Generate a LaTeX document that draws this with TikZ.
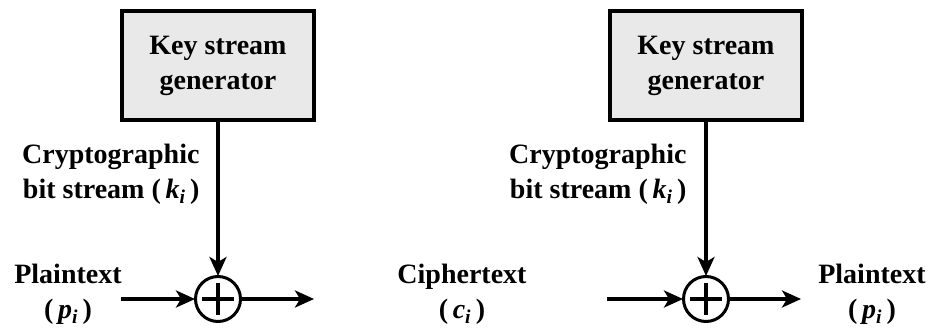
\documentclass[tikz,border=0pt]{standalone}
\usepackage{fontspec}
\setmainfont{Liberation Serif}
\usetikzlibrary{arrows.meta,positioning}
\newcommand{\bitsub}[2]{(\,\textit{#1}\textsubscript{\textit{#2}}\,)}

\begin{document}
\begin{tikzpicture}[x=1pt,y=1pt]
\tikzset{genbox/.style={draw, line width=4pt, fill=gray!17, minimum width=192pt, minimum height=109pt, align=center, inner sep=0pt}}
\tikzset{xorop/.style={circle, draw, line width=3pt, minimum size=45pt, inner sep=0pt,
  path picture={\draw[line width=3.5pt] (path picture bounding box.center) ++(-16pt,0) -- ++(32pt,0)
    (path picture bounding box.center) ++(0,-16pt) -- ++(0,32pt);}}}
\tikzset{conn/.style={line width=3.3pt, -{Stealth[length=19pt,width=17pt,inset=5pt]}, shorten >=-1pt}}
\tikzstyle{every node}=[font=\fontsize{28}{35}\selectfont\bfseries]
\useasboundingbox (0,0) rectangle (929,327);
% encryption side
\node[genbox] (keygenA) at (218,261) {Key stream\\generator};
\node[xorop] (xorA) at (218,28) {};
\coordinate (inA) at (121,28);
\coordinate (outA) at (313,28);
\node[anchor=east, align=right] (kA) at (203,153) {Cryptographic\\bit stream \bitsub{k}{i}};
\node[align=center] (ptA) at (68,33) {Plaintext\\\bitsub{p}{i}};
\draw[conn] (keygenA) -- (xorA);
\draw[conn] (inA) -- (xorA);
\draw[conn] (xorA) -- (outA);
% decryption side
\node[genbox] (keygenB) at (706,261) {Key stream\\generator};
\node[xorop] (xorB) at (706,28) {};
\coordinate (inB) at (607,28);
\coordinate (outB) at (800,28);
\node[anchor=east, align=right] (kB) at (690,153) {Cryptographic\\bit stream \bitsub{k}{i}};
\node[align=center] (ctB) at (462,33) {Ciphertext\\\bitsub{c}{i}};
\node[align=center] (ptB) at (872,33) {Plaintext\\\bitsub{p}{i}};
\draw[conn] (keygenB) -- (xorB);
\draw[conn] (inB) -- (xorB);
\draw[conn] (xorB) -- (outB);
\end{tikzpicture}
\end{document}
